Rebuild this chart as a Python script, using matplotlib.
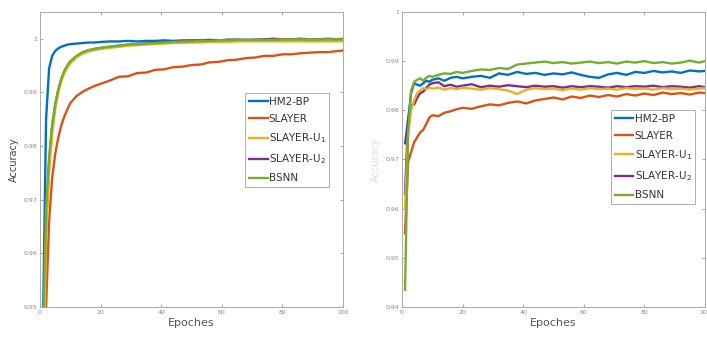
import matplotlib
matplotlib.use('Agg')
import matplotlib.pyplot as plt

epochs = [1, 2, 3, 4, 5, 6, 7, 8, 9, 10, 12, 14, 16, 18, 20,
          23, 26, 29, 32, 35, 38, 41, 44, 47, 50, 53, 56, 59, 62, 65,
          68, 71, 74, 77, 80, 83, 86, 89, 92, 95, 98, 100]

# left panel (training)
train_hm2bp = [0.948, 0.985, 0.9945, 0.9968, 0.9977, 0.9982, 0.9985, 0.9987, 0.9989, 0.9990,
               0.9991, 0.9992, 0.9993, 0.9993, 0.9994, 0.9995, 0.9995, 0.9996, 0.9995, 0.9996,
               0.9996, 0.9997, 0.9996, 0.9997, 0.9997, 0.9997, 0.9998, 0.9997, 0.9998, 0.9998,
               0.9997, 0.9998, 0.9998, 0.9998, 0.9998, 0.9998, 0.9999, 0.9998, 0.9998, 0.9999,
               0.9998, 0.9999]
train_slayer = [0.930, 0.950, 0.966, 0.9740, 0.9785, 0.9815, 0.9838, 0.9855, 0.9868, 0.9880,
                0.9893, 0.9901, 0.9907, 0.9912, 0.9916, 0.9922, 0.9929, 0.9930, 0.9936, 0.9937,
                0.9942, 0.9943, 0.9947, 0.9948, 0.9951, 0.9952, 0.9956, 0.9957, 0.9960, 0.9961,
                0.9964, 0.9965, 0.9968, 0.9968, 0.9971, 0.9971, 0.9973, 0.9974, 0.9975, 0.9975,
                0.9977, 0.9978]
train_u1 = [0.935, 0.962, 0.975, 0.982, 0.9868, 0.9898, 0.9920, 0.9936, 0.9946, 0.9954,
            0.9965, 0.9972, 0.9976, 0.9979, 0.9981, 0.9983, 0.9985, 0.9987, 0.9988, 0.9989,
            0.9990, 0.9991, 0.9992, 0.9992, 0.9993, 0.9993, 0.9994, 0.9994, 0.9994, 0.9995,
            0.9995, 0.9995, 0.9995, 0.9995, 0.9995, 0.9995, 0.9995, 0.9995, 0.9995, 0.9995,
            0.9995, 0.9995]
train_u2 = [0.940, 0.966, 0.977, 0.9835, 0.9876, 0.9904, 0.9924, 0.9939, 0.9949, 0.9957,
            0.9967, 0.9974, 0.9978, 0.9981, 0.9983, 0.9985, 0.9987, 0.9989, 0.9990, 0.9991,
            0.9993, 0.9993, 0.9994, 0.9995, 0.9996, 0.9996, 0.9997, 0.9997, 0.9998, 0.9998,
            0.9998, 0.9998, 0.9999, 1.0000, 0.9999, 0.9999, 1.0000, 0.9999, 0.9999, 1.0000,
            0.9999, 1.0000]
train_bsnn = [0.945, 0.968, 0.978, 0.984, 0.9878, 0.9905, 0.9925, 0.9940, 0.9950, 0.9958,
              0.9968, 0.9975, 0.9979, 0.9981, 0.9983, 0.9985, 0.9987, 0.9989, 0.9990, 0.9991,
              0.9992, 0.9993, 0.9994, 0.9995, 0.9995, 0.9996, 0.9996, 0.9997, 0.9997, 0.9998,
              0.9998, 0.9998, 0.9998, 0.9998, 0.9999, 0.9999, 0.9999, 0.9999, 0.9999, 0.9999,
              0.9999, 0.9999]

# right panel (test)
test_hm2bp = [0.9733, 0.978, 0.9835, 0.9855, 0.9852, 0.9850, 0.9855, 0.9860, 0.9858, 0.9862,
              0.9865, 0.9860, 0.9866, 0.9868, 0.9865, 0.9868, 0.9870, 0.9866, 0.9875, 0.9872,
              0.9878, 0.9874, 0.9876, 0.9872, 0.9875, 0.9873, 0.9877, 0.9872, 0.9868, 0.9866,
              0.9873, 0.9876, 0.9872, 0.9878, 0.9876, 0.9880, 0.9877, 0.9879, 0.9876, 0.9881,
              0.9879, 0.9880]
test_slayer = [0.955, 0.9695, 0.9715, 0.9735, 0.9745, 0.9755, 0.9760, 0.9772, 0.9785, 0.9790,
               0.9788, 0.9795, 0.9798, 0.9802, 0.9805, 0.9803, 0.9808, 0.9812, 0.9810, 0.9815,
               0.9818, 0.9814, 0.9820, 0.9823, 0.9826, 0.9822, 0.9828, 0.9825, 0.9830, 0.9827,
               0.9831, 0.9828, 0.9833, 0.9830, 0.9834, 0.9831, 0.9836, 0.9833, 0.9835, 0.9832,
               0.9836, 0.9835]
test_u1 = [0.960, 0.975, 0.980, 0.982, 0.9835, 0.9840, 0.9845, 0.9843, 0.9846, 0.9844,
           0.9846, 0.9842, 0.9845, 0.9843, 0.9846, 0.9844, 0.9842, 0.9845, 0.9843, 0.9840,
           0.9833, 0.9842, 0.9845, 0.9843, 0.9844, 0.9841, 0.9844, 0.9842, 0.9845, 0.9843,
           0.9844, 0.9842, 0.9845, 0.9843, 0.9844, 0.9842, 0.9845, 0.9843, 0.9844, 0.9842,
           0.9844, 0.9845]
test_u2 = [0.963, 0.978, 0.981, 0.9812, 0.9825, 0.9835, 0.9838, 0.9845, 0.9852, 0.9855,
           0.9857, 0.9849, 0.9852, 0.9848, 0.9850, 0.9853, 0.9847, 0.9850, 0.9848, 0.9851,
           0.9849, 0.9847, 0.9850, 0.9848, 0.9849, 0.9846, 0.9849, 0.9847, 0.9849, 0.9848,
           0.9846, 0.9849, 0.9847, 0.9849, 0.9848, 0.9850, 0.9847, 0.9849, 0.9848, 0.9846,
           0.9849, 0.9847]
test_bsnn = [0.9435, 0.975, 0.984, 0.9858, 0.9862, 0.9865, 0.9860, 0.9866, 0.9870, 0.9868,
             0.9872, 0.9875, 0.9874, 0.9878, 0.9876, 0.9880, 0.9883, 0.9882, 0.9886, 0.9884,
             0.9893, 0.9895, 0.9897, 0.9899, 0.9896, 0.9898, 0.9895, 0.9897, 0.9899, 0.9896,
             0.9898, 0.9895, 0.9899, 0.9897, 0.9900, 0.9896, 0.9898, 0.9895, 0.9897, 0.9901,
             0.9897, 0.9900]

names = ['HM2-BP', 'SLAYER', 'SLAYER-U$_1$', 'SLAYER-U$_2$', 'BSNN']
colors = ['#0072BD', '#D95319', '#EDB120', '#7E2F8E', '#77AC30']
draw_order = [0, 1, 3, 2, 4]

fig = plt.figure(figsize=(7.07, 3.38), dpi=100)
ax1 = fig.add_axes([0.0566, 0.0917, 0.4286, 0.873])
ax2 = fig.add_axes([0.5686, 0.0917, 0.4286, 0.873])

panels = [
    (ax1, [train_hm2bp, train_slayer, train_u1, train_u2, train_bsnn],
     (0.95, 1.005), [0.95, 0.96, 0.97, 0.98, 0.99, 1.0],
     ['0.95', '0.96', '0.97', '0.98', '0.99', '1'], (0.677, 0.725), '#444444'),
    (ax2, [test_hm2bp, test_slayer, test_u1, test_u2, test_bsnn],
     (0.94, 1.0), [0.94, 0.95, 0.96, 0.97, 0.98, 0.99, 1.0],
     ['0.94', '0.95', '0.96', '0.97', '0.98', '0.99', '1'], (0.69, 0.668), '#dddddd'),
]

for ax, series, ylim, yt, ytl, anchor, lab_color in panels:
    handles = [None] * 5
    for i in draw_order:
        handles[i], = ax.plot(epochs, series[i], color=colors[i], lw=1.7,
                              label=names[i])
    ax.set_xlim(0, 100)
    ax.set_ylim(*ylim)
    ax.set_xticks([0, 20, 40, 60, 80, 100])
    ax.set_yticks(yt)
    ax.set_yticklabels(ytl)
    ax.tick_params(direction='in', length=2, width=0.6, labelsize=4.5,
                   labelcolor='#888888', color='#999999',
                   top=True, right=True, pad=2)
    for s in ax.spines.values():
        s.set_color('#aaaaaa')
        s.set_linewidth(0.7)
    ax.set_xlabel('Epoches', fontsize=8, color='#555555', labelpad=2)
    ax.set_ylabel('Accuracy', fontsize=7, color=lab_color, labelpad=3)
    leg = ax.legend(handles=handles, loc='upper left', bbox_to_anchor=anchor,
                    fontsize=7.5, frameon=True, fancybox=False,
                    handlelength=1.8, handletextpad=0.1, labelspacing=0.7,
                    borderpad=0.35, borderaxespad=0)
    leg.get_frame().set_edgecolor('#999999')
    leg.get_frame().set_linewidth(0.7)
    for t in leg.get_texts():
        t.set_color('#333333')

fig.savefig('out.png', dpi=100)
